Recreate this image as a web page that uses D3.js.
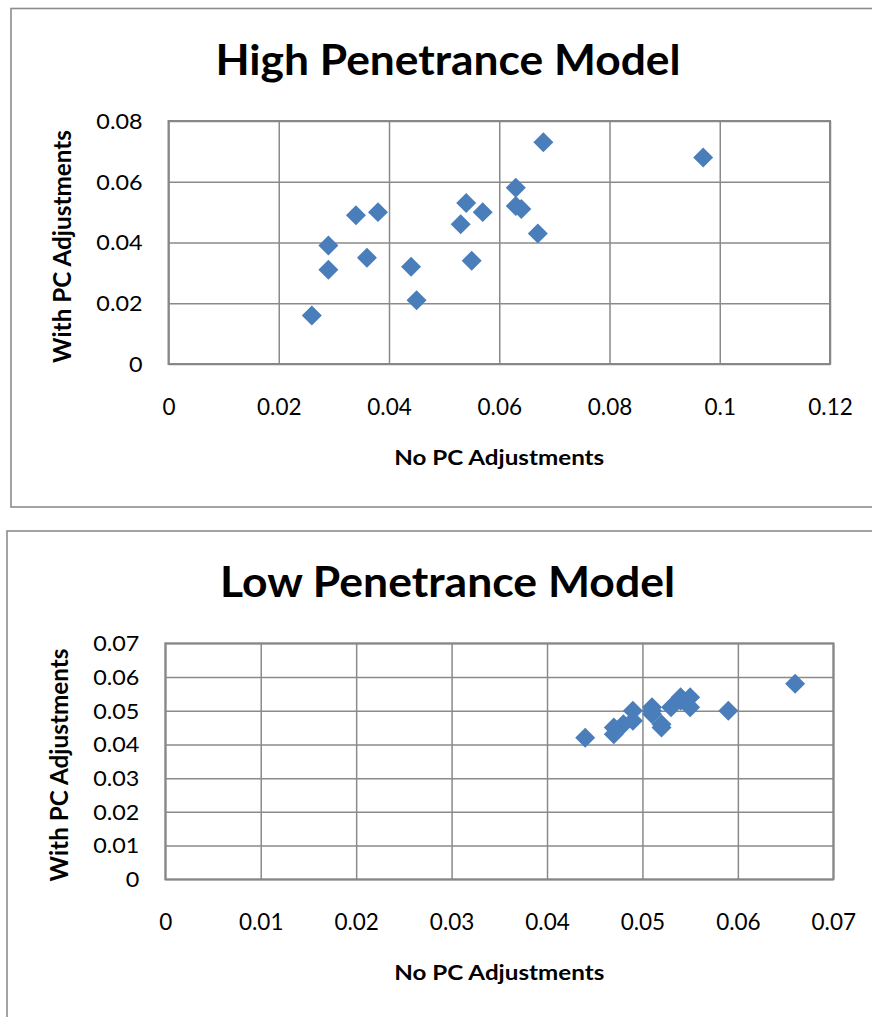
<!DOCTYPE html>
<html>
<head>
<meta charset="utf-8">
<script src="https://cdn.jsdelivr.net/npm/d3@7"></script>
<style>
  html, body { margin: 0; padding: 0; background: #ffffff; }
  svg { display: block; }
  text { font-family: "Lato", "Open Sans", "Noto Sans", sans-serif; fill: #000; }
</style>
</head>
<body>
<svg id="chart" width="872" height="1017"></svg>
<script>
// ---------- DATA ----------
const highTitle = "High Penetrance Model";
const highX = [0.068, 0.063, 0.063, 0.064, 0.067, 0.054, 0.057, 0.053, 0.055, 0.034, 0.038, 0.029, 0.029, 0.036, 0.044, 0.045, 0.026, 0.097];
const highY = [0.073, 0.058, 0.052, 0.051, 0.043, 0.053, 0.050, 0.046, 0.034, 0.049, 0.050, 0.039, 0.031, 0.035, 0.032, 0.021, 0.016, 0.068];
const highXTicks = [0, 0.02, 0.04, 0.06, 0.08, 0.1, 0.12];
const highYTicks = [0, 0.02, 0.04, 0.06, 0.08];

const lowTitle = "Low Penetrance Model";
const lowX = [0.044, 0.047, 0.047, 0.048, 0.049, 0.049, 0.051, 0.051, 0.052, 0.052, 0.053, 0.054, 0.054, 0.055, 0.055, 0.059, 0.066, 0.051];
const lowY = [0.042, 0.043, 0.045, 0.046, 0.047, 0.050, 0.051, 0.049, 0.046, 0.045, 0.051, 0.053, 0.054, 0.054, 0.051, 0.050, 0.058, 0.050];
const lowXTicks = [0, 0.01, 0.02, 0.03, 0.04, 0.05, 0.06, 0.07];
const lowYTicks = [0, 0.01, 0.02, 0.03, 0.04, 0.05, 0.06, 0.07];

const xAxisTitle = "No PC Adjustments";
const yAxisTitle = "With PC Adjustments";

// ---------- LAYOUT ----------
const charts = [
  { title: highTitle, xs: highX, ys: highY, xTicks: highXTicks, yTicks: highYTicks,
    box: { x: 11, y: 8.5, w: 900, h: 498.5 },
    plot: { l: 168.5, t: 121, r: 830, b: 364 },
    titleX: 448, titleY: 75, titleLen: 465,
    yTitleX: 71, yTitleY: 246.5 },
  { title: lowTitle, xs: lowX, ys: lowY, xTicks: lowXTicks, yTicks: lowYTicks,
    box: { x: 7, y: 531, w: 900, h: 520 },
    plot: { l: 165.3, t: 643.3, r: 833.3, b: 879.3 },
    titleX: 447.5, titleY: 597, titleLen: 455,
    yTitleX: 67.5, yTitleY: 765 }
];

const markerColor = "#4a7ebb";
const gridColor = "#8a8a8a";
const fmt = d => String(+d.toFixed(2));

const svg = d3.select("#chart");

function stretchText(sel, sx) {
  sel.each(function () {
    const t = d3.select(this);
    const x = +t.attr("x") || 0, y = +t.attr("y") || 0;
    t.attr("x", 0).attr("y", 0)
     .attr("transform", `translate(${x},${y}) scale(${sx},1)`);
  });
}

charts.forEach(c => {
  const g = svg.append("g");
  // outer chart border
  g.append("rect")
    .attr("x", c.box.x).attr("y", c.box.y)
    .attr("width", c.box.w).attr("height", c.box.h)
    .attr("fill", "#fff").attr("stroke", "#8c8c8c").attr("stroke-width", 1.6);

  const x = d3.scaleLinear().domain([c.xTicks[0], c.xTicks[c.xTicks.length - 1]]).range([c.plot.l, c.plot.r]);
  const y = d3.scaleLinear().domain([c.yTicks[0], c.yTicks[c.yTicks.length - 1]]).range([c.plot.b, c.plot.t]);
  const pw = c.plot.r - c.plot.l, ph = c.plot.b - c.plot.t;

  // gridlines
  const gx = g.append("g").attr("transform", `translate(0,${c.plot.b})`)
    .call(d3.axisBottom(x).tickValues(c.xTicks).tickSize(-ph).tickFormat(""));
  gx.select(".domain").remove();
  gx.selectAll("line").attr("stroke", gridColor).attr("stroke-width", 1.5);
  const gy = g.append("g").attr("transform", `translate(${c.plot.l},0)`)
    .call(d3.axisLeft(y).tickValues(c.yTicks).tickSize(-pw).tickFormat(""));
  gy.select(".domain").remove();
  gy.selectAll("line").attr("stroke", gridColor).attr("stroke-width", 1.5);

  // plot border
  g.append("rect")
    .attr("x", c.plot.l).attr("y", c.plot.t).attr("width", pw).attr("height", ph)
    .attr("fill", "none").attr("stroke", "#878787").attr("stroke-width", 2);

  // tick labels (x)
  const ax = g.append("g").attr("transform", `translate(0,${c.plot.b})`)
    .call(d3.axisBottom(x).tickValues(c.xTicks).tickSize(0).tickPadding(0).tickFormat(fmt));
  ax.select(".domain").remove();
  ax.selectAll("text").attr("y", 51).attr("dy", 0)
    .style("font-size", "22.5px").attr("fill", "#000");
  stretchText(ax.selectAll("text"), 1.0);

  // tick labels (y)
  const ay = g.append("g").attr("transform", `translate(${c.plot.l},0)`)
    .call(d3.axisLeft(y).tickValues(c.yTicks).tickSize(0).tickPadding(26).tickFormat(fmt));
  ay.select(".domain").remove();
  ay.selectAll("text").attr("dy", "0.36em")
    .style("font-size", "20.5px").attr("fill", "#000");
  stretchText(ay.selectAll("text"), 1.14);

  // markers
  const sym = d3.symbol().type(d3.symbolSquare).size(200);
  g.append("g").selectAll("path")
    .data(c.xs.map((v, i) => [v, c.ys[i]]))
    .join("path")
    .attr("d", sym)
    .attr("transform", d => `translate(${x(d[0])},${y(d[1])}) rotate(45)`)
    .attr("fill", markerColor);

  // title
  g.append("text")
    .attr("x", c.titleX).attr("y", c.titleY)
    .attr("text-anchor", "middle")
    .attr("textLength", c.titleLen).attr("lengthAdjust", "spacingAndGlyphs")
    .style("font-size", "42px").style("font-weight", "bold")
    .text(c.title);

  // x axis title
  g.append("text")
    .attr("x", (c.plot.l + c.plot.r) / 2 + 0).attr("y", c.plot.b + 101)
    .attr("text-anchor", "middle")
    .attr("textLength", 210).attr("lengthAdjust", "spacingAndGlyphs")
    .style("font-size", "21.5px").style("font-weight", "bold")
    .text(xAxisTitle);

  // y axis title
  g.append("text")
    .attr("transform", `translate(${c.yTitleX},${c.yTitleY}) scale(1.25,1) rotate(-90)`)
    .attr("text-anchor", "middle")
    .attr("textLength", 233).attr("lengthAdjust", "spacingAndGlyphs")
    .style("font-size", "20.5px").style("font-weight", "bold")
    .text(yAxisTitle);
});
</script>
</body>
</html>
